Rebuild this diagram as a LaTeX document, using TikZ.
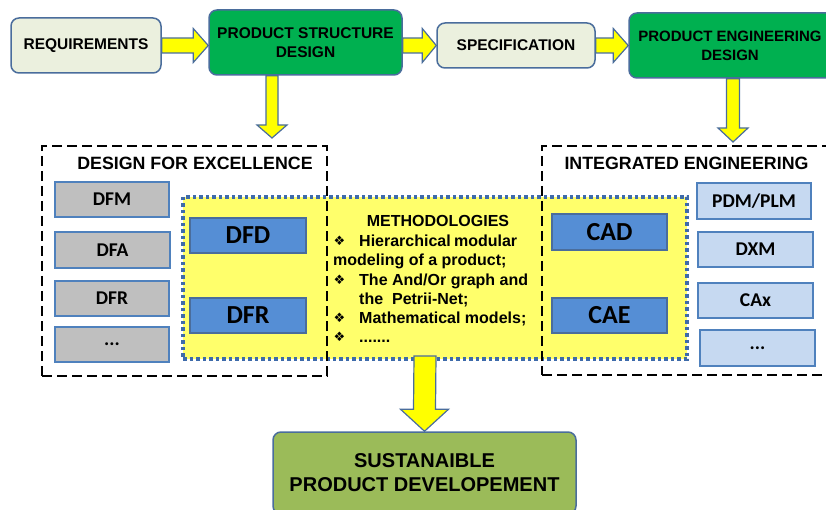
\documentclass[tikz,border=0pt]{standalone}
\usepackage{fontspec}
\setmainfont{Liberation Sans}
\newfontfamily\calfont{Carlito}
\newfontfamily\symfont{DejaVu Sans}
\usetikzlibrary{calc}

\definecolor{reqfill}{HTML}{EBF0DE}
\definecolor{bordblue}{HTML}{4A6D9C}
\definecolor{grn}{HTML}{00B050}
\definecolor{ylw}{HTML}{FFFF00}
\definecolor{ylwbox}{HTML}{FFFF6B}
\definecolor{greyfill}{HTML}{BFBFBF}
\definecolor{midblue}{HTML}{558ED5}
\definecolor{ltblue}{HTML}{C6D9F1}
\definecolor{olivefill}{HTML}{9BBB59}
\definecolor{dotblue}{HTML}{3E6BAA}
\definecolor{boxedge}{HTML}{4F81BD}

\newcommand{\blockR}[5]{%
  \draw[yarrow] ($(#1)+(0,-#3)$) -- ($(#2)+(-#5,-#3)$) -- ($(#2)+(-#5,-#4)$) -- (#2)
     -- ($(#2)+(-#5,#4)$) -- ($(#2)+(-#5,#3)$) -- ($(#1)+(0,#3)$) -- cycle;}
\newcommand{\blockD}[5]{%
  \draw[yarrow] ($(#1)+(-#3,0)$) -- ($(#2)+(-#3,-#5)$) -- ($(#2)+(-#4,-#5)$) -- (#2)
     -- ($(#2)+(#4,-#5)$) -- ($(#2)+(#3,-#5)$) -- ($(#1)+(#3,0)$) -- cycle;}

\begin{document}
\begin{tikzpicture}[x=1pt,y=-1pt,
  topbox/.style={draw=bordblue, line width=1.5pt, rounded corners=8pt, fill=reqfill,
     align=center, inner sep=0pt, font=\bfseries\fontsize{15.5}{19}\selectfont},
  greenbox/.style={topbox, fill=grn},
  framebox/.style={draw=black, line width=1.8pt, dash pattern=on 10pt off 5pt, inner sep=0pt},
  frametitle/.style={inner sep=0pt, font=\bfseries\fontsize{17.8}{21}\selectfont},
  greybox/.style={draw=boxedge, line width=1.5pt, fill=greyfill, minimum width=114pt,
     minimum height=35pt, inner sep=0pt, font=\calfont\bfseries\fontsize{19.5}{22}\selectfont},
  ltbox/.style={greybox, fill=ltblue},
  midbox/.style={draw=bordblue, line width=1.5pt, fill=midblue, minimum width=116pt,
     minimum height=35pt, inner sep=0pt, font=\calfont\bfseries\fontsize{26}{30}\selectfont},
  yarrow/.style={draw=bordblue, line width=1.2pt, fill=ylw, line join=miter},
  methbox/.style={draw=dotblue, line width=3.5pt, dash pattern=on 3.5pt off 3pt, fill=ylwbox, inner sep=0pt},
  mtext/.style={inner sep=0pt, font=\bfseries\fontsize{16}{19}\selectfont},
  bul/.style={inner sep=0pt, anchor=base west, font=\symfont\fontsize{13}{15}\selectfont}
]
\useasboundingbox (0,0) rectangle (826,510);
\clip (0,0) rectangle (826,510);

% top row
\node[topbox, minimum width=150pt, minimum height=55pt] (req) at (86,45.5) {REQUIREMENTS};
\node[greenbox, minimum width=193pt, minimum height=65pt] (psd) at (305.5,42.5) {PRODUCT STRUCTURE\\DESIGN};
\node[topbox, minimum width=158pt, minimum height=45pt] (spec) at (516,45.5) {SPECIFICATION};
\node[greenbox, minimum width=208pt, minimum height=65pt] (ped) at (733,45.5) {};
\node[inner sep=0pt, align=center, font=\bfseries\fontsize{15}{19}\selectfont] (pedt) at (730,45.5) {PRODUCT ENGINEERING\\DESIGN};

\coordinate (a1t) at (psd.west |- req.east);
\coordinate (a2s) at (psd.east |- req.east);
\coordinate (a2t) at (spec.west);
\coordinate (a3t) at (ped.west |- spec.east);
\blockR{req.east}{a1t}{7.5}{17}{15}
\blockR{a2s}{a2t}{7.5}{17}{14}
\blockR{spec.east}{a3t}{7.5}{17}{15}

% methodologies box
\node[methbox, minimum width=504pt, minimum height=162pt] (meth) at (435,278) {};

% frames
\node[framebox, minimum width=285pt, minimum height=230pt] (dfx) at (184.5,261) {};
\node[framebox, minimum width=293pt, minimum height=229pt] (ie) at (688.5,260.5) {};
\node[frametitle] (dfxt) at (195,163) {DESIGN FOR EXCELLENCE};
\node[frametitle] (iet) at (686.5,163) {INTEGRATED ENGINEERING};

% down arrows from top
\coordinate (d1s) at ($(psd.south)+(-33.5,0)$);
\coordinate (d1t) at (272,138);
\blockD{d1s}{d1t}{6}{15}{13}
\coordinate (d2s) at (ped.south);
\coordinate (d2t) at (733,142);
\blockD{d2s}{d2t}{6.5}{15}{14}

% left boxes
\node[greybox] (dfm) at (112,199.5) {DFM};
\node[greybox, minimum width=115pt, minimum height=36pt] (dfa) at (112.5,250) {DFA};
\node[greybox] (dfr) at (112,298.5) {DFR};
\node[greybox] (dots1) at (112,344.5) {...};

\node[midbox] (dfd) at (248,235.5) {DFD};
\node[midbox] (dfr2) at (248,315.5) {DFR};
\node[midbox, minimum width=115pt, minimum height=36pt] (cad) at (609.5,232) {CAD};
\node[midbox, minimum width=115pt] (cae) at (609.5,315.5) {CAE};

\node[ltbox, minimum height=36pt] (pdm) at (754,201) {PDM/PLM};
\node[ltbox, minimum width=115pt] (dxm) at (755.5,249.5) {DXM};
\node[ltbox, minimum width=115pt] (cax) at (755.5,300.5) {CAx};
\node[ltbox, minimum width=115pt, minimum height=36pt] (dots2) at (757.5,348) {...};

% methodologies text
\node[mtext, anchor=base] (mt) at (438,227) {METHODOLOGIES};
\node[bul] (b1) at (333.5,245.5) {❖};
\node[mtext, anchor=base west] (m1) at (359,246.5) {\makebox[158pt][s]{Hierarchical modular}};
\node[mtext, anchor=base west] (m2) at (333,265.5) {modeling of a product;};
\node[bul] (b2) at (333.5,284) {❖};
\node[mtext, anchor=base west] (m3) at (359,285) {The And/Or graph and};
\node[mtext, anchor=base west] (m4) at (359,304) {the\ \ Petrii-Net;};
\node[bul] (b3) at (333.5,322) {❖};
\node[mtext, anchor=base west] (m5) at (359,323) {Mathematical models;};
\node[bul] (b4) at (333.5,341) {❖};
\node[mtext, anchor=base west] (m6) at (359,342) {.......};

% bottom
\node[topbox, fill=olivefill, minimum width=303pt, minimum height=82pt, font=\bfseries\fontsize{20}{24}\selectfont] (spd) at (424.5,473) {SUSTANAIBLE\\PRODUCT DEVELOPEMENT};
\coordinate (d3s) at (425,356);
\blockD{d3s}{spd.north}{11}{24}{22}
\end{tikzpicture}
\end{document}
